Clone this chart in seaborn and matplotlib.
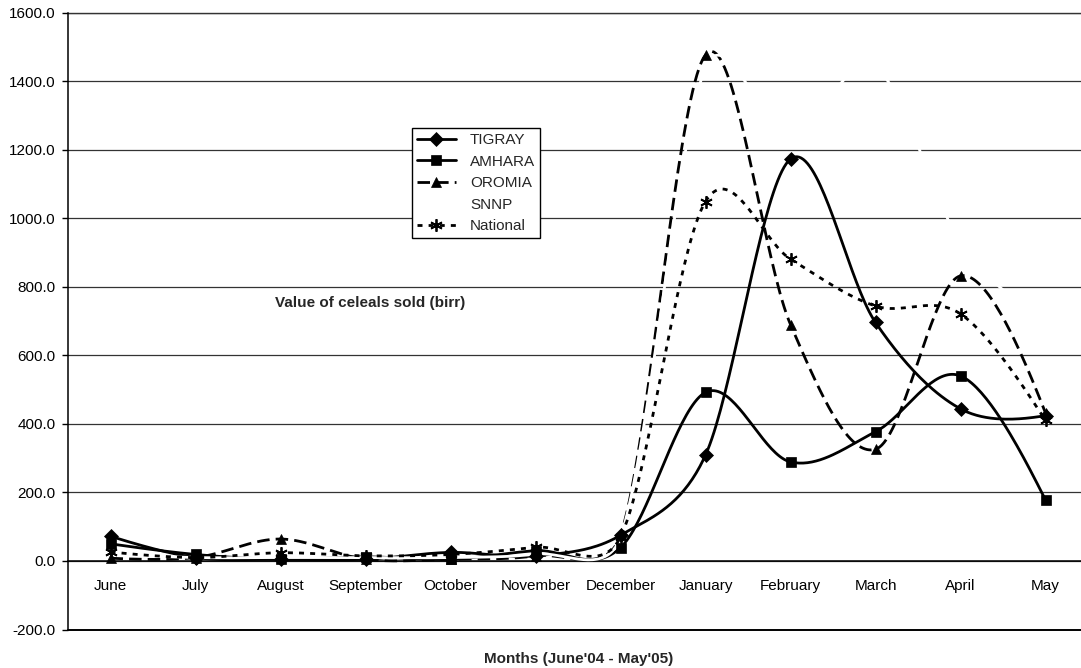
import numpy as np
import pandas as pd
import matplotlib
matplotlib.use("Agg")
import matplotlib.pyplot as plt
from matplotlib.lines import Line2D
import seaborn as sns

months = ["June", "July", "August", "September", "October", "November",
          "December", "January", "February", "March", "April", "May"]
tigray = [72, 10, 5, 5, 25, 15, 75, 309, 1173, 696, 444, 424]
amhara = [50, 19, 5, 12, 5, 30, 39, 492, 289, 377, 540, 178]
oromia = [8, 10, 64, 5, 5, 15, 75, 1477, 690, 326, 832, 432]
snnp = [20, 10, 10, 10, 10, 20, 70, 1440, 1250, 1440, 930, 700]
national = [26, 10, 24, 15, 19, 40, 70, 1049, 881, 744, 721, 410]
yticks = [-200, 0, 200, 400, 600, 800, 1000, 1200, 1400, 1600]

sns.set_theme(style="white")
plt.rcParams['font.family'] = ['Liberation Sans', 'DejaVu Sans']

W, H = 1081, 668
fig = plt.figure(figsize=(W / 100, H / 100), dpi=100)
ax = fig.add_axes([68 / W, (H - 629.5) / H, 1020 / W, (629.5 - 12.7) / H])

# pixel scale of the axes, used so the smoothing behaves like a screen-space spline
SX, SY = 85.0, 0.3425


def smooth(vals, n=40):
    pts = np.column_stack([np.arange(len(vals)) * SX, np.asarray(vals, float) * SY])
    m = len(pts)
    d = np.hypot(*(pts[1:] - pts[:-1]).T)
    cout = pts.copy()
    cin = pts.copy()
    for i in range(1, m - 1):
        T = (pts[i + 1] - pts[i - 1]) / 6.0
        L = np.hypot(*T)
        a, b = d[i - 1], d[i]
        ta = T * min(1.0, 0.5 * a / L) if L > 0 else T
        tb = T * min(1.0, 0.5 * b / L) if L > 0 else T
        cin[i] = pts[i] - ta
        cout[i] = pts[i] + tb
    out = []
    for i in range(m - 1):
        p1, p2 = pts[i], pts[i + 1]
        c1, c2 = cout[i], cin[i + 1]
        if i == 0:
            c1 = p1 + (c2 - p1) / 3.0
        if i == m - 2:
            c2 = p2 + (c1 - p2) / 3.0
        t = np.linspace(0, 1, n, endpoint=(i == m - 2))[:, None]
        seg = ((1 - t) ** 3) * p1 + 3 * ((1 - t) ** 2) * t * c1 + 3 * (1 - t) * t ** 2 * c2 + t ** 3 * p2
        out.append(seg)
    s = np.vstack(out)
    return pd.DataFrame({"x": s[:, 0] / SX, "y": s[:, 1] / SY})


series = [
    ("TIGRAY", tigray, "black", "-", "D", 7),
    ("AMHARA", amhara, "black", "-", "s", 7.5),
    ("OROMIA", oromia, "black", (0, (4.5, 2.2)), "^", 7.5),
    ("SNNP", snnp, "white", "-", None, 0),
    ("National", national, "black", (0, (1.8, 2.2)), (6, 2, 0), 9),
]

handles = []
for name, vals, col, ls, mk, ms in series:
    df = smooth(vals)
    sns.lineplot(data=df, x="x", y="y", sort=False, estimator=None, ax=ax,
                 color=col, linewidth=2.0, linestyle=ls, zorder=3)
    if mk is not None:
        pdf = pd.DataFrame({"x": np.arange(len(vals)), "y": vals})
        sns.lineplot(data=pdf, x="x", y="y", sort=False, estimator=None, ax=ax,
                     color=col, linestyle="", marker=mk, markersize=ms,
                     markeredgecolor=col, markeredgewidth=1.3 if mk == (6, 2, 0) else 0.5,
                     zorder=4)
    handles.append(Line2D([0], [0], color=col, lw=2.0, linestyle=ls,
                          marker=mk if mk is not None else None,
                          markersize=ms, markeredgecolor=col,
                          markeredgewidth=1.3 if mk == (6, 2, 0) else 0.5))

ax.set_xlim(-0.5, 11.5)
ax.set_ylim(-200, 1600)
ax.set_yticks(yticks)
ax.set_yticklabels([f"{v:.1f}" for v in yticks], fontsize=11)
ax.set_xticks(range(len(months)))
ax.set_xticklabels(months, fontsize=11)
ax.set_xticks(np.arange(0.5, 11.5, 1.0), minor=True)
ax.tick_params(axis="x", which="major", length=0, pad=13, colors="black")
ax.tick_params(axis="x", which="minor", length=5, width=1, direction="out", color="black")
ax.tick_params(axis="y", which="major", length=4, width=1, direction="out", pad=5,
               color="black", labelcolor="black", left=True)
ax.set_xlabel("")
ax.set_ylabel("")

ax.grid(axis="y", color="#333333", linewidth=0.9)
ax.grid(axis="x", visible=False)
ax.set_axisbelow(True)
for s in ["top", "right"]:
    ax.spines[s].set_visible(False)
ax.spines["left"].set_color("black")
ax.spines["left"].set_linewidth(1.1)
ax.spines["bottom"].set_position(("data", 0))
ax.spines["bottom"].set_color("black")
ax.spines["bottom"].set_linewidth(1.1)
ax.axhline(-200, color="black", lw=1.4, clip_on=False, zorder=5)
ax.axhline(1600, color="#333333", lw=1.0, clip_on=False, zorder=1)

leg = fig.legend(handles, [s[0] for s in series], loc="lower left",
                 bbox_to_anchor=(412 / W, 1 - 238 / H), bbox_transform=fig.transFigure,
                 fontsize=11, frameon=True, fancybox=False, shadow=False,
                 handlelength=2.6, handletextpad=0.9, borderpad=0.3,
                 labelspacing=0.5, borderaxespad=0)
leg.get_frame().set_edgecolor("black")
leg.get_frame().set_linewidth(1.0)
leg.get_frame().set_facecolor("white")
leg.get_frame().set_alpha(1)

fig.text(370 / W, 1 - 303 / H, "Value of celeals sold (birr)", fontsize=11,
         fontweight="bold", ha="center", va="center")
fig.text(579 / W, 1 - 659 / H, "Months (June'04 - May'05)", fontsize=11,
         fontweight="bold", ha="center", va="center")

fig.savefig("out.png", dpi=100, facecolor="white")
